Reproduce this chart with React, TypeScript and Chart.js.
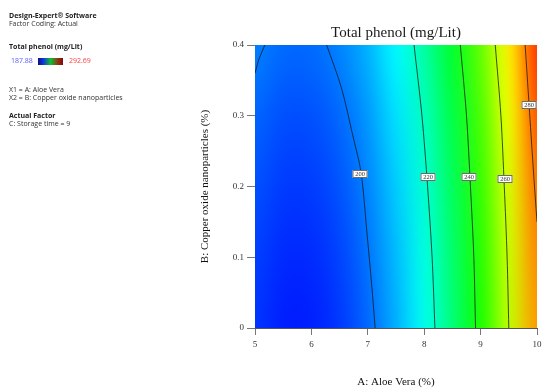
import React, { useEffect, useRef } from "react";
import { Chart, registerables } from "chart.js";

Chart.register(...registerables);

// ---------- texts ----------
const chartTitle = "Total phenol (mg/Lit)";
const xAxisTitle = "A: Aloe Vera (%)";
const yAxisTitle = "B: Copper oxide nanoparticles (%)";

// ---------- axes ----------
const xTicks = [5, 6, 7, 8, 9, 10];
const yTicks = [0, 0.1, 0.2, 0.3, 0.4];

// ---------- response field ----------
const gridX = [5, 5.5, 6, 6.5, 7, 7.5, 8, 8.5, 9, 9.5, 10];
const gridY = [0, 0.1, 0.2, 0.3, 0.4];
const phenolAtY0 = [193.2, 190.9, 191.0, 193.5, 198.5, 205.9, 215.7, 228.0, 242.7, 259.8, 277.0];
const phenolAtY1 = [194.4, 192.1, 192.2, 194.7, 199.7, 207.1, 216.9, 229.2, 243.9, 261.0, 278.6];
const phenolAtY2 = [196.1, 193.8, 193.9, 196.4, 201.4, 208.8, 218.6, 230.9, 245.6, 262.7, 281.0];
const phenolAtY3 = [198.3, 196.0, 196.1, 198.6, 203.6, 211.0, 220.8, 233.1, 247.8, 264.9, 284.2];
const phenolAtY4 = [201.1, 198.8, 198.9, 201.4, 206.4, 213.8, 223.6, 235.9, 250.6, 267.7, 287.5];
const phenolRows = [phenolAtY0, phenolAtY1, phenolAtY2, phenolAtY3, phenolAtY4];
const colorMin = 187.88;
const colorMax = 292.69;

// ---------- contour lines ----------
const contour200CornerX = [5.175, 5.07, 5.0];
const contour200CornerY = [0.4, 0.38, 0.36];
const contour200X = [6.27, 6.53, 6.74, 6.88, 6.99, 7.07, 7.13];
const contour200Y = [0.4, 0.34, 0.27, 0.22, 0.13, 0.06, 0];
const contour220X = [7.82, 7.96, 8.06, 8.14, 8.19];
const contour220Y = [0.4, 0.3, 0.2, 0.1, 0];
const contour240X = [8.64, 8.75, 8.82, 8.88, 8.91];
const contour240Y = [0.4, 0.3, 0.2, 0.1, 0];
const contour260X = [9.26, 9.36, 9.42, 9.47, 9.5];
const contour260Y = [0.4, 0.3, 0.2, 0.1, 0];
const contour280X = [9.79, 9.86, 9.93, 10.0];
const contour280Y = [0.4, 0.315, 0.23, 0.15];

const contourXs = [contour200CornerX, contour200X, contour220X, contour240X, contour260X, contour280X];
const contourYs = [contour200CornerY, contour200Y, contour220Y, contour240Y, contour260Y, contour280Y];
const contourLevels = [200, 200, 220, 240, 260, 280];

const labelTexts = ["200", "220", "240", "260", "280"];
const labelX = [6.87, 8.07, 8.79, 9.43, 9.86];
const labelY = [0.218, 0.214, 0.214, 0.21, 0.315];

// ---------- colour map ----------
const mapStops = [
  [0, 0, 255],
  [0, 255, 255],
  [0, 255, 0],
  [255, 255, 0],
  [255, 0, 0],
];

function colorFor(v: number): number[] {
  let t = (v - colorMin) / (colorMax - colorMin);
  t = Math.max(0, Math.min(1, t));
  const p = t * (mapStops.length - 1);
  const i = Math.min(mapStops.length - 2, Math.floor(p));
  const f = p - i;
  return mapStops[i].map((c, k) => Math.round(c + (mapStops[i + 1][k] - c) * f));
}

const fieldPlugin = {
  id: "field",
  beforeDatasetsDraw(chart: any) {
    const { ctx, chartArea, scales } = chart;
    const w = gridX.length;
    const h = gridY.length;
    const off = document.createElement("canvas");
    off.width = w;
    off.height = h;
    const octx = off.getContext("2d")!;
    const img = octx.createImageData(w, h);
    for (let r = 0; r < h; r++) {
      const row = phenolRows[h - 1 - r];
      for (let c = 0; c < w; c++) {
        const col = colorFor(row[c]);
        const idx = (r * w + c) * 4;
        img.data[idx] = col[0];
        img.data[idx + 1] = col[1];
        img.data[idx + 2] = col[2];
        img.data[idx + 3] = 255;
      }
    }
    octx.putImageData(img, 0, 0);
    const hx = (gridX[1] - gridX[0]) / 2;
    const hy = (gridY[1] - gridY[0]) / 2;
    const x0 = scales.x.getPixelForValue(gridX[0] - hx);
    const x1 = scales.x.getPixelForValue(gridX[w - 1] + hx);
    const y0 = scales.y.getPixelForValue(gridY[h - 1] + hy);
    const y1 = scales.y.getPixelForValue(gridY[0] - hy);
    ctx.save();
    ctx.beginPath();
    ctx.rect(chartArea.left, chartArea.top, chartArea.right - chartArea.left, chartArea.bottom - chartArea.top);
    ctx.clip();
    ctx.imageSmoothingEnabled = true;
    ctx.imageSmoothingQuality = "high";
    ctx.drawImage(off, 0, 0, w, h, x0, y0, x1 - x0, y1 - y0);
    ctx.restore();
  },
  afterDatasetsDraw(chart: any) {
    const { ctx, scales } = chart;
    ctx.save();
    ctx.font = '6.5px "Liberation Serif"';
    ctx.textAlign = "center";
    ctx.textBaseline = "middle";
    labelTexts.forEach((t, i) => {
      const px = Math.round(scales.x.getPixelForValue(labelX[i]));
      const py = Math.round(scales.y.getPixelForValue(labelY[i]));
      const bw = 15;
      const bh = 8;
      ctx.fillStyle = "#ffffff";
      ctx.fillRect(px - bw / 2, py - bh / 2, bw, bh);
      ctx.strokeStyle = "#6a6a6a";
      ctx.lineWidth = 1;
      ctx.strokeRect(px - bw / 2 + 0.5, py - bh / 2 + 0.5, bw - 1, bh - 1);
      ctx.fillStyle = "#333333";
      ctx.fillText(t, px, py + 0.5);
    });
    ctx.restore();
  },
  afterDraw(chart: any) {
    const { ctx, chartArea } = chart;
    ctx.save();
    ctx.font = '15px "Liberation Serif"';
    ctx.textAlign = "center";
    ctx.textBaseline = "middle";
    ctx.fillStyle = "#1a1a1a";
    ctx.fillText(chartTitle, (chartArea.left + chartArea.right) / 2, 33);
    ctx.restore();
  },
};

const panelFont = '"Open Sans", "Noto Sans", sans-serif';

function PanelText(props: { top: number; left: number; bold?: boolean; color?: string; children: any }) {
  return (
    <div
      style={{
        position: "absolute",
        top: props.top,
        left: props.left,
        fontFamily: panelFont,
        fontSize: 7,
        lineHeight: "10px",
        fontWeight: props.bold ? 700 : 400,
        color: props.color || "#333",
        whiteSpace: "nowrap",
      }}
    >
      {props.children}
    </div>
  );
}

export default function App() {
  const canvasRef = useRef<HTMLCanvasElement | null>(null);

  useEffect(() => {
    const canvas = canvasRef.current;
    if (!canvas) return;
    const datasets = contourXs.map((xs, i) => ({
      label: String(contourLevels[i]),
      data: xs.map((x, j) => ({ x, y: contourYs[i][j] })),
      showLine: true,
      borderColor: "rgba(20,20,20,0.75)",
      borderWidth: 1,
      pointRadius: 0,
      tension: 0.3,
      fill: false,
    }));
    const chart = new Chart(canvas, {
      type: "scatter",
      data: { datasets },
      plugins: [fieldPlugin],
      options: {
        animation: false,
        responsive: false,
        layout: { padding: { left: 190, top: 45, right: 5, bottom: 0 } },
        plugins: {
          legend: { display: false },
          tooltip: { enabled: false },
          title: { display: false },
        },
        scales: {
          x: {
            type: "linear",
            min: xTicks[0],
            max: xTicks[xTicks.length - 1],
            afterBuildTicks: (s: any) => {
              s.ticks = xTicks.map((v) => ({ value: v }));
            },
            afterFit: (s: any) => {
              s.height = 62;
              s.paddingRight = 0;
              s.paddingLeft = 0;
            },
            ticks: {
              font: { family: "Liberation Serif", size: 9 },
              color: "#333",
              padding: 4,
              maxRotation: 0,
            },
            grid: { drawOnChartArea: false, drawTicks: true, tickLength: 7, color: "#777" },
            border: { display: true, color: "#555" },
            title: {
              display: true,
              text: xAxisTitle,
              font: { family: "Liberation Serif", size: 11 },
              color: "#111",
              padding: { top: 0, bottom: 1 },
            },
          },
          y: {
            type: "linear",
            min: yTicks[0],
            max: yTicks[yTicks.length - 1],
            afterBuildTicks: (s: any) => {
              s.ticks = yTicks.map((v) => ({ value: v }));
            },
            afterFit: (s: any) => {
              s.width = 65;
            },
            ticks: {
              font: { family: "Liberation Serif", size: 9 },
              color: "#333",
              padding: 3,
            },
            grid: { drawOnChartArea: false, drawTicks: true, tickLength: 8, color: "#777" },
            border: { display: true, color: "#555" },
            title: {
              display: true,
              text: yAxisTitle,
              font: { family: "Liberation Serif", size: 11 },
              color: "#111",
              padding: { top: 9, bottom: 0 },
            },
          },
        },
      },
    } as any);
    return () => chart.destroy();
  }, []);

  return (
    <div style={{ position: "absolute", left: 0, top: 0, width: 542, height: 390, background: "#fff", overflow: "hidden" }}>
      <canvas ref={canvasRef} width={542} height={390} style={{ position: "absolute", left: 0, top: 0, width: 542, height: 390 }} />
      <PanelText top={11} left={9} bold color="#222">Design-Expert® Software</PanelText>
      <PanelText top={19} left={9}>Factor Coding: Actual</PanelText>
      <PanelText top={42} left={9} bold color="#222">Total phenol (mg/Lit)</PanelText>
      <PanelText top={56} left={11} color="#5a5aff">187.88</PanelText>
      <div
        style={{
          position: "absolute",
          left: 38,
          top: 58,
          width: 25,
          height: 7,
          background: "linear-gradient(to right, #10107a, #1030e0 20%, #10c030 50%, #a02010 85%, #701010)",
        }}
      />
      <PanelText top={56} left={69} color="#ff4040">292.69</PanelText>
      <PanelText top={85} left={9}>X1 = A: Aloe Vera</PanelText>
      <PanelText top={93} left={9}>X2 = B: Copper oxide nanoparticles</PanelText>
      <PanelText top={111} left={9} bold color="#222">Actual Factor</PanelText>
      <PanelText top={119} left={9}>C: Storage time = 9</PanelText>
    </div>
  );
}
